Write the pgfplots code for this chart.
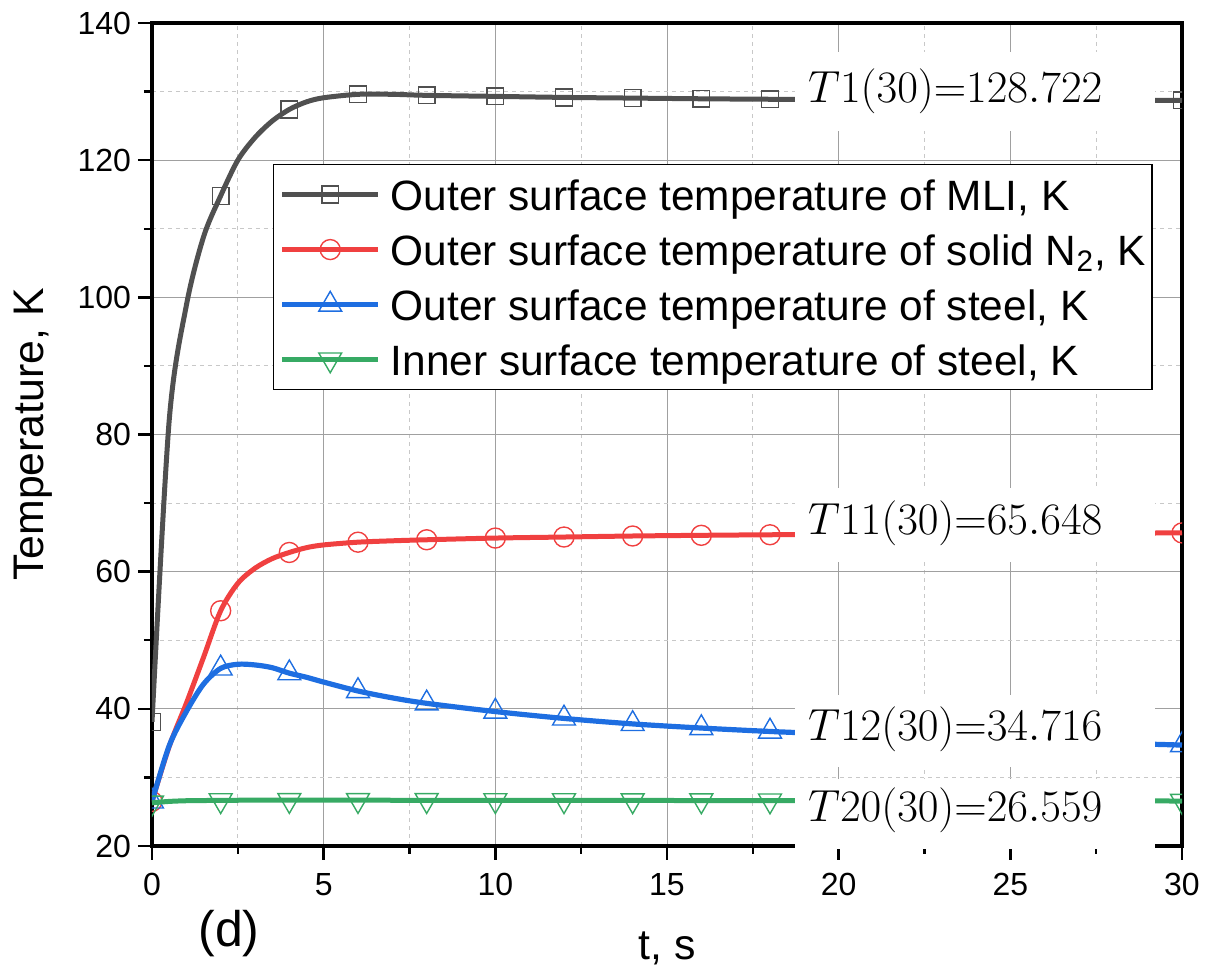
\RequirePackage{fix-cm}
\documentclass[border=0pt]{standalone}
\usepackage[no-math]{fontspec}
\setmainfont{Liberation Sans}
\usepackage{pgfplots}
\usepackage{pgfplotstable}
\pgfplotsset{compat=1.18}

\definecolor{mligray}{RGB}{80,80,80}
\definecolor{n2red}{RGB}{240,64,64}
\definecolor{steelblue}{RGB}{30,110,225}
\definecolor{innergreen}{RGB}{55,170,100}
\definecolor{majorgrid}{RGB}{160,160,160}
\definecolor{minorgrid}{RGB}{200,200,200}

% t [s], MLI outer, solid N2 outer, steel outer, steel inner [K]
\pgfplotstableread{
t    mli     n2     sout    sin
0    38.1    26.5   26.5    26.3
0.5  82.0    34.5   34.6    26.5
1    98.8    40.8   39.6    26.6
1.5  108.8   47.5   43.6    26.63
2    114.8   54.3   45.9    26.65
2.5  120.0   58.3   46.5    26.67
3    123.3   60.5   46.4    26.68
3.5  125.7   61.9   46.0    26.68
4    127.4   62.8   45.2    26.68
4.5  128.5   63.5   44.6    26.68
5    129.1   63.9   43.9    26.68
6    129.6   64.3   42.6    26.68
7    129.6   64.5   41.6    26.67
8    129.45  64.65  40.8    26.67
10   129.3   64.9   39.6    26.66
12   129.15  65.05  38.6    26.65
14   129.05  65.2   37.8    26.64
16   128.95  65.3   37.2    26.63
18   128.88  65.38  36.7    26.62
20   128.84  65.44  36.3    26.61
22   128.8   65.5   35.9    26.60
24   128.78  65.55  35.6    26.59
26   128.76  65.59  35.3    26.58
28   128.74  65.62  35.0    26.57
30   128.722 65.648 34.716  26.559
}\datatable

% markers every 2 s
\tikzset{evenmarks/.style={mark indices={1,5,9,12,14,15,16,17,18,19,20,21,22,23,24,25}}}

\begin{document}
\begin{tikzpicture}
\useasboundingbox (0,0) rectangle (608.5pt,485pt);
\begin{axis}[
  at={(76pt,62pt)}, anchor=south west,
  scale only axis, width=515pt, height=411.5pt,
  xmin=0, xmax=30, ymin=20, ymax=140,
  xtick={0,5,...,30}, ytick={20,40,...,140},
  minor x tick num=1, minor y tick num=1,
  grid=both,
  major grid style={majorgrid, line width=0.5pt},
  minor grid style={minorgrid, line width=0.5pt, dash pattern=on 2pt off 2pt},
  axis line style={line width=1.7pt, black},
  tick pos=left, tick align=outside,
  major tick length=7pt, minor tick length=4pt,
  tick style={black, line width=1.2pt},
  tick label style={font=\fontsize{16}{19}\selectfont},
  xticklabel style={yshift=-3pt},
  /pgf/number format/assume math mode=true,
  clip mode=individual, clip marker paths=true,
  ylabel={Temperature, K},
  ylabel style={at={(axis description cs:-0.1155,0.5)}, anchor=center,
    font=\fontsize{21.4}{25}\selectfont},
  legend image code/.code={\draw[#1, mark indices={2}] plot coordinates {(0pt,0pt) (24pt,0pt) (48pt,0pt)};},
  legend cell align=left,
  legend style={at={(0.1175,0.8287)}, anchor=north west, draw=black,
    line width=0.6pt, fill=white, inner xsep=3pt, inner ysep=1.25pt,
    column sep=5pt, row sep=0pt,
    font=\fontsize{21.2}{24}\selectfont,
    nodes={inner sep=0pt, text height=21.75pt, text depth=5.75pt}},
]
\addplot[mligray, line width=2.5pt, smooth, mark=square, mark size=4.2pt,
  evenmarks, mark options={solid, line width=0.7pt, fill=none}]
  table[x=t, y=mli] {\datatable};
\addlegendentry{Outer surface temperature of MLI, K}
\addplot[n2red, line width=2.5pt, smooth, mark=o, mark size=5pt,
  evenmarks, mark options={solid, line width=0.7pt, fill=none}]
  table[x=t, y=n2] {\datatable};
\addlegendentry{Outer surface temperature of solid N\textsubscript{2}, K}
\addplot[steelblue, line width=2.6pt, smooth, mark=triangle, mark size=6.6pt,
  evenmarks, mark options={solid, line width=0.7pt, fill=none}]
  table[x=t, y=sout] {\datatable};
\addlegendentry{Outer surface temperature of steel, K}
\addplot[innergreen, line width=2.5pt, smooth, mark=triangle, mark size=6.6pt,
  evenmarks, mark options={solid, line width=0.7pt, fill=none, rotate=180}]
  table[x=t, y=sin] {\datatable};
\addlegendentry{Inner surface temperature of steel, K}

% value tags at t = 30 s
\fill[white] (axis cs:18.73,124.25) rectangle (axis cs:29.21,135.8);
\fill[white] (axis cs:18.73,61.41) rectangle (axis cs:29.21,72.2);
\fill[white] (axis cs:18.73,31.45) rectangle (axis cs:29.21,42.02);
\fill[white] (axis cs:18.73,19.5) rectangle (axis cs:29.21,29.77);
\node[anchor=base west, inner sep=0pt, font=\fontsize{22.5}{27}\selectfont]
  at (axis cs:19.1,128.34) {$T1(30){=}128.722$};
\node[anchor=base west, inner sep=0pt, font=\fontsize{22.5}{27}\selectfont]
  at (axis cs:19.1,65.35) {$T11(30){=}65.648$};
\node[anchor=base west, inner sep=0pt, font=\fontsize{22.5}{27}\selectfont]
  at (axis cs:19.1,35.36) {$T12(30){=}34.716$};
\node[anchor=base west, inner sep=0pt, font=\fontsize{22.5}{27}\selectfont]
  at (axis cs:19.1,23.55) {$T20(30){=}26.559$};
% axis title and panel letter
\node[anchor=base, inner sep=0pt, font=\fontsize{21.4}{25}\selectfont]
  at (axis description cs:0.5,-0.1385) {t, s};
\node[font=\fontsize{25}{30}\selectfont] at (axis description cs:0.0748,-0.107) {(d)};
\end{axis}
\end{tikzpicture}
\end{document}
